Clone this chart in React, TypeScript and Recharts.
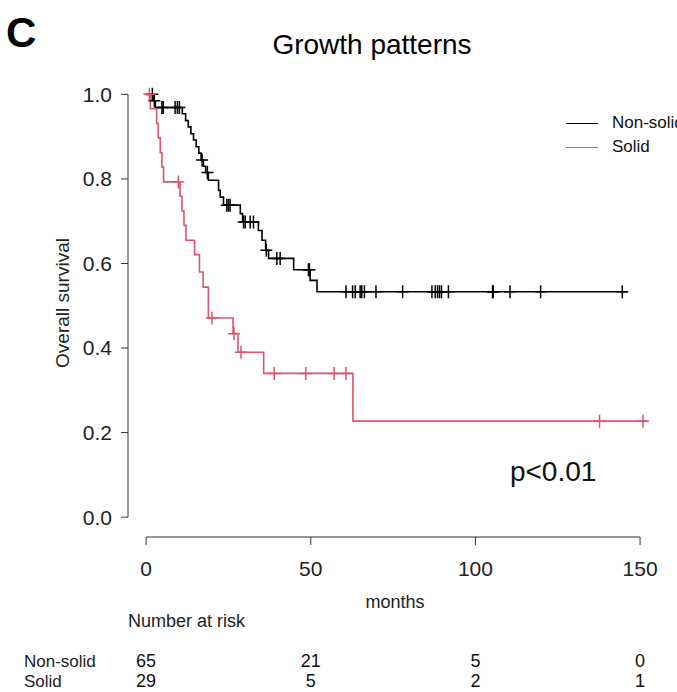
import {
  ComposedChart,
  Line,
  Scatter,
  XAxis,
  YAxis,
  ReferenceLine,
  ReferenceDot,
  Label,
} from "recharts";

const FONT = '"Liberation Sans", Arial, Helvetica, sans-serif';
const BLACK = "#000000";
const RED = "#DF536B";

// Kaplan-Meier steps (months, survival)
const nonSolidTimes = [0, 2.2, 2.8, 11.0, 12.0, 12.8, 13.6, 14.4, 15.2, 16.0, 16.7, 17.4, 18.1, 18.9, 22.0, 22.5, 23.5, 28.6, 29.3, 34.1, 35.2, 36.3, 37.2, 44.8, 49.8, 51.9];
const nonSolidSurv = [1.0, 0.985, 0.969, 0.954, 0.938, 0.923, 0.907, 0.892, 0.876, 0.861, 0.845, 0.83, 0.815, 0.797, 0.773, 0.757, 0.738, 0.718, 0.698, 0.678, 0.655, 0.631, 0.612, 0.585, 0.56, 0.533];
const nonSolidEnd = 146.1;
const nonSolidCensor = [1.9, 2.5, 4.8, 5.2, 8.8, 9.5, 10.1, 17.0, 18.6, 24.5, 25.0, 25.5, 29.6, 30.1, 31.6, 32.6, 36.5, 39.7, 40.7, 49.3, 49.6, 60.7, 62.7, 63.5, 65.0, 65.5, 66.3, 69.8, 77.9, 86.8, 87.8, 88.5, 89.1, 89.7, 91.8, 105.2, 105.4, 110.5, 119.8, 144.6];

const solidTimes = [0, 1.3, 3.2, 3.7, 4.3, 4.8, 5.3, 10.3, 10.9, 11.5, 12.1, 14.7, 16.2, 17.3, 18.9, 26.4, 27.9, 35.7, 62.8];
const solidSurv = [1.0, 0.966, 0.931, 0.897, 0.862, 0.828, 0.793, 0.759, 0.724, 0.69, 0.655, 0.621, 0.58, 0.544, 0.471, 0.434, 0.39, 0.34, 0.227];
const solidEnd = 152.3;
const solidCensor = [1.0, 9.8, 20.0, 26.7, 28.8, 38.9, 48.5, 57.1, 60.7, 137.7, 150.9];

const xTicks = [0, 50, 100, 150];
const yTicks = [0, 0.2, 0.4, 0.6, 0.8, 1.0];
const riskNonSolid = [65, 21, 5, 0];
const riskSolid = [29, 5, 2, 1];

const X_DOMAIN: [number, number] = [-5.5, 160];
const Y_DOMAIN: [number, number] = [-0.047, 1.06];

function stepData(times: number[], surv: number[], end: number) {
  const pts = times.map((t, i) => ({ t, s: surv[i] }));
  pts.push({ t: end, s: surv[surv.length - 1] });
  return pts;
}

function survAt(times: number[], surv: number[], t: number) {
  let s = surv[0];
  for (let i = 0; i < times.length; i++) if (times[i] <= t) s = surv[i];
  return s;
}

const nonSolidLine = stepData(nonSolidTimes, nonSolidSurv, nonSolidEnd);
const solidLine = stepData(solidTimes, solidSurv, solidEnd);
const nonSolidMarks = nonSolidCensor.map((t) => ({ t, s: survAt(nonSolidTimes, nonSolidSurv, t) }));
const solidMarks = solidCensor.map((t) => ({ t, s: survAt(solidTimes, solidSurv, t) }));

function plusShape(color: string) {
  return (p: any) => (
    <path
      d={`M${p.cx - 6},${p.cy}h12M${p.cx},${p.cy - 6.5}v13`}
      stroke={color}
      strokeWidth={1.5}
      fill="none"
    />
  );
}

// x tick: axis value plus the number-at-risk rows underneath it
function xTick(p: any) {
  const i = xTicks.indexOf(p.payload.value);
  return (
    <g fontFamily={FONT} textAnchor="middle">
      <text x={p.x} y={p.y} dy="0.71em" fontSize={21} fill="#222">
        {p.payload.value}
      </text>
      <text x={p.x} y={p.y + 106} fontSize={18} fill="#111">
        {riskNonSolid[i]}
      </text>
      <text x={p.x} y={p.y + 126} fontSize={18} fill="#111">
        {riskSolid[i]}
      </text>
    </g>
  );
}

function bottomLabels(p: any) {
  const y = p.viewBox.y;
  return (
    <g fontFamily={FONT} fill="#222">
      <text x={395} y={y + 71} textAnchor="middle" fontSize={18}>
        months
      </text>
      <text x={128} y={y + 90} fontSize={18}>
        Number at risk
      </text>
      <text x={24} y={y + 130} fontSize={17}>
        Non-solid
      </text>
      <text x={24} y={y + 150} fontSize={17}>
        Solid
      </text>
    </g>
  );
}

export default function App() {
  return (
    <div style={{ position: "absolute", left: 0, top: 0, width: 677, height: 692, background: "#fff" }}>
      <div style={{ position: "absolute", left: 6, top: 12, fontFamily: FONT, fontWeight: "bold", fontSize: 42, lineHeight: 1 }}>
        C
      </div>
      <div style={{ position: "absolute", left: 0, width: 744, top: 31, textAlign: "center", fontFamily: FONT, fontSize: 28, lineHeight: 1 }}>
        Growth patterns
      </div>
      <ComposedChart width={677} height={692} margin={{ top: 69, right: 4, bottom: 8, left: 0 }}>
        <XAxis
          type="number"
          dataKey="t"
          domain={X_DOMAIN}
          ticks={xTicks}
          allowDataOverflow
          axisLine={false}
          tickSize={8}
          tickMargin={16}
          tick={xTick}
          tickLine={{ stroke: "#333" }}
          height={147}
        >
          <Label content={bottomLabels} />
        </XAxis>
        <YAxis
          type="number"
          dataKey="s"
          domain={Y_DOMAIN}
          ticks={yTicks}
          allowDataOverflow
          axisLine={false}
          width={128}
          tickSize={7}
          tickMargin={9}
          tick={{ fontSize: 21, fontFamily: FONT, fill: "#222" }}
          tickLine={{ stroke: "#333" }}
          tickFormatter={(v: number) => v.toFixed(1)}
          label={{ value: "Overall survival", angle: -90, position: "insideLeft", offset: 62, style: { textAnchor: "middle", fontSize: 19, fontFamily: FONT, fill: "#222" } }}
        />
        <ReferenceLine segment={[{ x: 0, y: Y_DOMAIN[0] }, { x: 150, y: Y_DOMAIN[0] }]} stroke="#333" ifOverflow="visible" />
        <ReferenceLine segment={[{ x: X_DOMAIN[0], y: 0 }, { x: X_DOMAIN[0], y: 1 }]} stroke="#333" ifOverflow="visible" />
        <Line data={nonSolidLine} dataKey="s" type="stepAfter" stroke={BLACK} strokeWidth={1.6} dot={false} isAnimationActive={false} />
        <Line data={solidLine} dataKey="s" type="stepAfter" stroke={RED} strokeWidth={1.6} dot={false} isAnimationActive={false} />
        <Scatter data={nonSolidMarks} shape={plusShape(BLACK)} isAnimationActive={false} />
        <Scatter data={solidMarks} shape={plusShape(RED)} isAnimationActive={false} />
        <ReferenceDot x={123.6} y={0.109} r={0} ifOverflow="visible">
          <Label value="p<0.01" position="center" style={{ fontSize: 28, fontFamily: FONT, fill: "#111" }} />
        </ReferenceDot>
      </ComposedChart>
      <div style={{ position: "absolute", left: 566, top: 111, fontFamily: FONT, fontSize: 17, lineHeight: "24px", color: "#111", whiteSpace: "nowrap" }}>
        <div style={{ display: "flex", alignItems: "center" }}>
          <span style={{ display: "inline-block", width: 32, height: 0, borderTop: `1.5px solid ${BLACK}`, marginRight: 14 }} />
          Non-solid
        </div>
        <div style={{ display: "flex", alignItems: "center" }}>
          <span style={{ display: "inline-block", width: 32, height: 0, borderTop: `1.5px solid ${RED}`, marginRight: 14 }} />
          Solid
        </div>
      </div>
    </div>
  );
}
